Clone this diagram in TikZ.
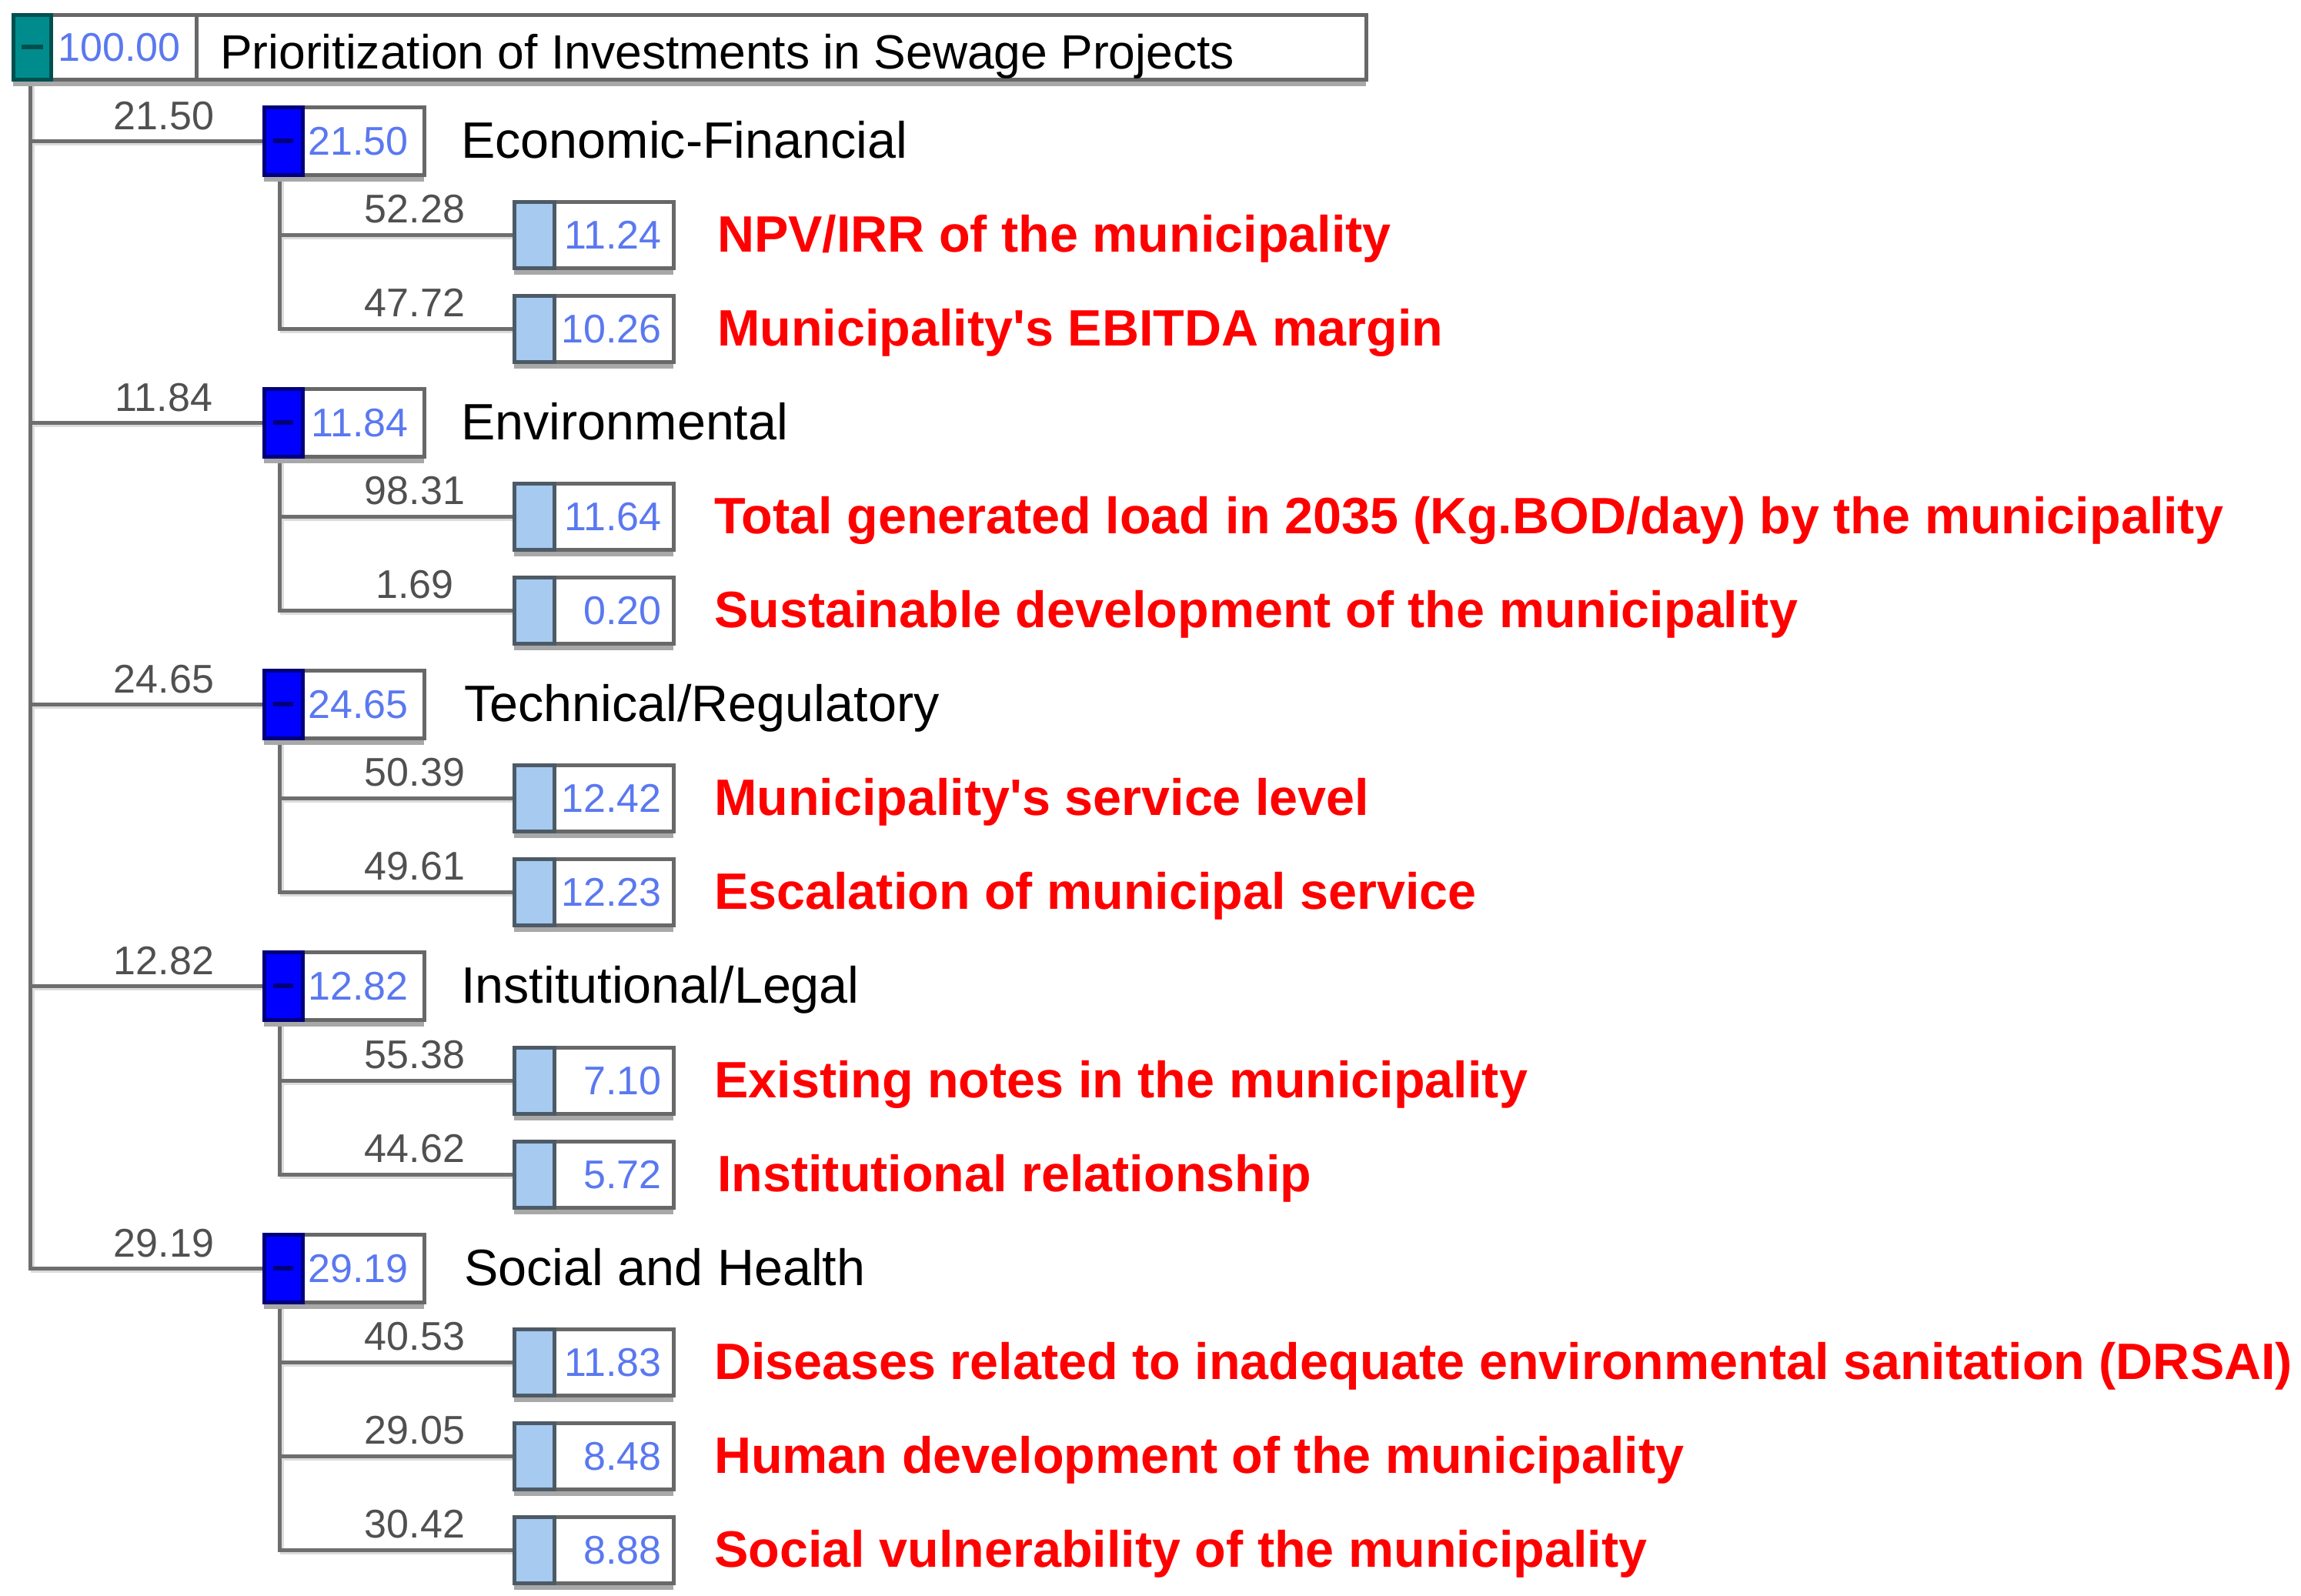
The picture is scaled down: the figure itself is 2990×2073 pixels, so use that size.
\documentclass[tikz,border=0pt]{standalone}
\usepackage{fontspec}
\setmainfont{Liberation Sans}
\definecolor{bordergray}{HTML}{686868}
\definecolor{shadegray}{HTML}{A8A8A8}
\definecolor{linegray}{HTML}{6E6E6E}
\definecolor{lineshadow}{HTML}{DCDCDC}
\definecolor{tealfill}{HTML}{008C8C}
\definecolor{tealdark}{HTML}{004F4F}
\definecolor{pureblue}{HTML}{0000FF}
\definecolor{navyline}{HTML}{00007A}
\definecolor{skyblue}{HTML}{A6CAF0}
\definecolor{skyborder}{HTML}{4D5A66}
\definecolor{valblue}{HTML}{5A78F0}
\definecolor{wgray}{HTML}{505050}
\definecolor{critred}{HTML}{FF0000}
\newcommand\ttlfont{\fontsize{62.4}{66}\selectfont}
\newcommand\lvlfont{\fontsize{66.5}{70}\selectfont}
\newcommand\redfont{\bfseries\fontsize{66.5}{70}\selectfont}
\newcommand\dgtfont{\fontsize{52}{56}\selectfont}
\newcommand\sq{{\XeTeXglyph\XeTeXcharglyph"27\relax}}
\pgfdeclarelayer{bg}
\pgfdeclarelayer{paper}
\pgfsetlayers{paper,bg,main}
\tikzset{
  boxline/.style={draw=bordergray, line width=5pt, inner sep=0pt, outer sep=0pt, anchor=west, fill=white},
  rootsq/.style={boxline, draw=tealdark, fill=tealfill, minimum width=49pt, minimum height=84pt},
  rootval/.style={boxline, minimum width=189pt, minimum height=84pt},
  titlebox/.style={boxline, minimum width=1520pt, minimum height=84pt},
  lonesq/.style={boxline, draw=navyline, fill=pureblue, minimum width=50pt, minimum height=88pt},
  loneval/.style={boxline, minimum width=158pt, minimum height=88pt},
  ltwosq/.style={boxline, draw=skyborder, fill=skyblue, minimum width=52pt, minimum height=86pt},
  ltwoval/.style={boxline, minimum width=155pt, minimum height=86pt},
  valtxt/.style={font=\dgtfont, text=valblue, inner sep=0pt, text height=37pt, text depth=0pt, anchor=east},
  wtxt/.style={font=\dgtfont, text=wgray, inner sep=0pt, text height=37pt, text depth=0pt},
  ttl/.style={font=\ttlfont, anchor=base west, inner sep=0pt},
  lvl/.style={font=\lvlfont, anchor=base west, inner sep=0pt},
  crit/.style={font=\redfont, text=critred, anchor=base west, inner sep=0pt},
  conn/.style={draw=linegray, line width=5pt},
  connshadow/.style={draw=lineshadow, line width=5pt},
  boxshade/.style={draw=shadegray, line width=6pt},
  minusmark/.style={line width=6pt},
}
% level-1 criterion: #1 name, #2 row y, #3 weight, #4 text, #5 text x
\newcommand\lone[5]{%
  \node[loneval] (#1v) at (393,#2) {};
  \node[lonesq] (#1s) at (343,#2) {};
  \draw[boxshade] ([yshift=-5.5pt]#1s.south west) -- ([yshift=-5.5pt]#1v.south east);
  \draw[minusmark, draw=navyline] ([xshift=-13pt]#1s.center) -- ([xshift=13pt]#1s.center);
  \node[valtxt] (#1t) at ([xshift=-20pt]#1v.east) {#3};
  \node[wtxt] (#1w) at (213,{#2-33}) {#3};
  \node[lvl] (#1l) at (#5,{#2+22}) {#4};
}
% level-2 sub-criterion: #1 name, #2 row y, #3 weight, #4 value, #5 text
\newcommand\ltwo[6]{%
  \node[ltwoval] (#1v) at (720,#2) {};
  \node[ltwosq] (#1s) at (668,#2) {};
  \draw[boxshade] ([yshift=-5.5pt]#1s.south west) -- ([yshift=-5.5pt]#1v.south east);
  \node[valtxt] (#1t) at ([xshift=-15pt]#1v.east) {#4};
  \node[wtxt] (#1w) at (539,{#2-34}) {#3};
  \node[crit] (#1l) at (#6,{#2+22}) {#5};
}
\newcommand\drawconns[1]{%
  \foreach \a in {eco,env,tec,ins,soc} {\draw[#1] ([xshift=-2.5pt]rs.south) |- (\a s.west);}
  \foreach \p/\c in {eco/npv,eco/ebi,env/tot,env/sus,tec/svc,tec/esc,ins/exi,ins/rel,soc/dis,soc/hum,soc/vul}
    {\draw[#1] ([xshift=-5pt]\p s.south) |- (\c s.west);}
}
\begin{document}
\begin{tikzpicture}[x=1pt,y=-1pt]
\begin{pgfonlayer}{paper}
  \fill[white] (0,0) rectangle (2990,2073);
\end{pgfonlayer}
\useasboundingbox (0,0) rectangle (2990,2073);
% root
\node[titlebox] (rt) at (255,61) {};
\node[rootval] (rv) at (66,61) {};
\node[rootsq] (rs) at (17,61) {};
\draw[boxshade] ([yshift=-5.5pt]rs.south west) -- ([yshift=-5.5pt]rt.south east);
\draw[minusmark, draw=tealdark] ([xshift=-14pt]rs.center) -- ([xshift=14pt]rs.center);
\node[valtxt] (rvt) at ([xshift=-20pt]rv.east) {100.00};
\node[ttl] (title) at (286,89) {Prioritization of Investments in Sewage Projects};
% criteria
\lone{eco}{183}{21.50}{Economic-Financial}{599}
\ltwo{npv}{305}{52.28}{11.24}{NPV/IRR of the municipality}{932}
\ltwo{ebi}{427}{47.72}{10.26}{Municipality\sq s EBITDA margin}{932}
\lone{env}{549}{11.84}{Environmental}{599}
\ltwo{tot}{671}{98.31}{11.64}{Total generated load in 2035 (Kg.BOD/day) by the municipality}{928}
\ltwo{sus}{793}{1.69}{0.20}{Sustainable development of the municipality}{928}
\lone{tec}{915}{24.65}{Technical/Regulatory}{603}
\ltwo{svc}{1037}{50.39}{12.42}{Municipality\sq s service level}{928}
\ltwo{esc}{1159}{49.61}{12.23}{Escalation of municipal service}{928}
\lone{ins}{1281}{12.82}{Institutional/Legal}{599}
\ltwo{exi}{1404}{55.38}{7.10}{Existing notes in the municipality}{928}
\ltwo{rel}{1526}{44.62}{5.72}{Institutional relationship}{932}
\lone{soc}{1648}{29.19}{Social and Health}{603}
\ltwo{dis}{1770}{40.53}{11.83}{Diseases related to inadequate environmental sanitation (DRSAI)}{928}
\ltwo{hum}{1892}{29.05}{8.48}{Human development of the municipality}{928}
\ltwo{vul}{2014}{30.42}{8.88}{Social vulnerability of the municipality}{928}
% connectors
\begin{pgfonlayer}{bg}
  \begin{scope}[transform canvas={xshift=3pt,yshift=-3pt}]
    \drawconns{connshadow}
  \end{scope}
  \drawconns{conn}
\end{pgfonlayer}
\end{tikzpicture}
\end{document}
